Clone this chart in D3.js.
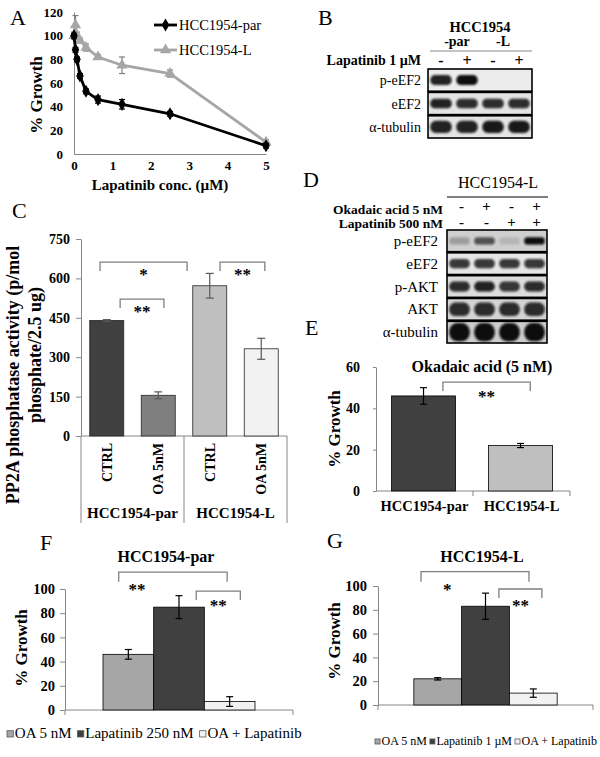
<!DOCTYPE html>
<html><head><meta charset="utf-8">
<script src="https://cdn.jsdelivr.net/npm/d3@7"></script>
<style>body{margin:0;background:#fff} svg{display:block} text{font-family:"Liberation Serif","Times New Roman",serif}</style>
</head><body><svg id="c" width="600" height="757"></svg>
<script>
// ---------- DATA ----------
// Panel A
const doses = [0, 0.039, 0.078, 0.156, 0.3125, 0.625, 1.25, 2.5, 5];
const parGrowth = [100, 88, 80, 66, 53, 46, 42, 34, 7];
const parErr = [2, 2, 2, 2, 2, 3, 4, 2, 2];
const lGrowth = [100, 109, 100, 96, 90, 82, 75, 68, 10];
const lErr = [3, 8, 3, 2, 3, 2, 7, 3, 2];
const growthTicksA = [0, 20, 40, 60, 80, 100, 120];
const doseTicks = [0, 1, 2, 3, 4, 5];
const seriesA = ["HCC1954-par", "HCC1954-L"];
// Panel B (western blot band intensities, lanes: par -, par +, L -, L +)
const blotBRows = ["p-eEF2", "eEF2", "α-tubulin"];
const blotBIntensity = [[0.9, 1, 0, 0], [0.9, 0.85, 0.85, 0.85], [0.9, 0.9, 0.95, 0.95]];
const blotBLapatinib = ["-", "+", "-", "+"];
// Panel C
const pp2aCats = ["CTRL", "OA 5nM", "CTRL", "OA 5nM"];
const pp2aGroups = ["HCC1954-par", "HCC1954-L"];
const pp2aValues = [440, 155, 572, 332];
const pp2aErr = [3, 13, 47, 40];
const pp2aTicks = [0, 150, 300, 450, 600, 750];
// Panel D
const blotDRows = ["p-eEF2", "eEF2", "p-AKT", "AKT", "α-tubulin"];
const blotDIntensity = [[0.25, 0.65, 0.12, 1], [0.8, 0.8, 0.8, 0.8], [0.85, 0.9, 0.8, 0.85], [0.85, 0.85, 0.85, 0.85], [1, 1, 1, 1]];
const blotDOkadaic = ["-", "+", "-", "+"];
const blotDLapatinib = ["-", "-", "+", "+"];
// Panel E
const eCats = ["HCC1954-par", "HCC1954-L"];
const eValues = [46, 22];
const eErr = [4, 1];
const eTicks = [0, 20, 40, 60];
// Panel F
const fSeries = ["OA 5 nM", "Lapatinib 250 nM", "OA + Lapatinib"];
const fValues = [46, 85, 7];
const fErr = [4, 9.5, 4];
// Panel G
const gSeries = ["OA 5 nM", "Lapatinib 1 µM", "OA + Lapatinib"];
const gValues = [22, 83, 10];
const gErr = [1, 11, 3.5];
const fgTicks = [0, 20, 40, 60, 80, 100];

// ---------- STYLE ----------
const SERIF = '"Liberation Serif","Times New Roman",serif';
const AXIS = "#868686";
const BRK = "#7f7f7f";
const pp2aColors = ["#404040", "#7f7f7f", "#bfbfbf", "#f2f2f2"];
const eColors = ["#404040", "#bfbfbf"];
const fgColors = ["#a6a6a6", "#404040", "#f2f2f2"];

const svg = d3.select("#c");
svg.append("rect").attr("width", 600).attr("height", 757).attr("fill", "#fff");
const defs = svg.append("defs");
defs.append("filter").attr("id", "blur").attr("x", "-20%").attr("y", "-50%").attr("width", "140%").attr("height", "200%")
  .append("feGaussianBlur").attr("stdDeviation", 1.3);

function txt(g, x, y, s, o = {}) {
  const t = g.append("text").attr("x", x).attr("y", y).text(s)
    .attr("font-size", o.size || 14).attr("font-weight", o.bold ? "bold" : "normal")
    .attr("text-anchor", o.anchor || "start").attr("fill", o.fill || "#000");
  if (o.rotate) t.attr("transform", `rotate(${o.rotate},${x},${y})`);
  return t;
}
function styleAxis(sel, size) {
  sel.attr("font-family", SERIF).attr("font-size", size).attr("font-weight", "bold");
  sel.select(".domain").attr("stroke", AXIS);
  sel.selectAll(".tick line").attr("stroke", AXIS);
  sel.selectAll(".tick text").attr("fill", "#000");
}
function errBar(g, x, y1, y2, cap, color) {
  g.append("line").attr("x1", x).attr("x2", x).attr("y1", y1).attr("y2", y2).attr("stroke", color).attr("stroke-width", 1.2);
  [y1, y2].forEach(y => g.append("line").attr("x1", x - cap).attr("x2", x + cap).attr("y1", y).attr("y2", y).attr("stroke", color).attr("stroke-width", 1.2));
}
function bracket(g, xL, xR, yTop, yLeg, label, lx, ly) {
  g.append("path").attr("d", `M${xL},${yLeg}V${yTop}H${xR}V${yLeg}`).attr("fill", "none").attr("stroke", BRK).attr("stroke-width", 1.3);
  txt(g, lx, ly, label, { size: 17, bold: true, anchor: "middle" });
}

// ---------- PANEL A ----------
(function () {
  const g = svg.append("g");
  const x = d3.scaleLinear().domain([0, 5]).range([74, 266]);
  const y = d3.scaleLinear().domain([0, 120]).range([154, 12]);
  g.append("g").attr("transform", "translate(74,0)").call(d3.axisLeft(y).tickValues(growthTicksA).tickSize(0).tickPadding(11)).call(styleAxis, 13);
  g.append("g").attr("transform", "translate(0,154)").call(d3.axisBottom(x).tickValues(doseTicks).tickFormat(d3.format("d")).tickSize(0).tickPadding(7)).call(styleAxis, 13);
  txt(g, 10, 25, "A", { size: 22 });
  txt(g, 42, 95, "% Growth", { size: 17, bold: true, anchor: "middle", rotate: -90 });
  txt(g, 160, 190, "Lapatinib conc. (µM)", { size: 15, bold: true, anchor: "middle" });
  const line = d3.line().x((d, i) => x(doses[i])).y(d => y(d));
  const specs = [
    { vals: lGrowth, err: lErr, color: "#a6a6a6", sym: d3.symbolTriangle, size: 55 },
    { vals: parGrowth, err: parErr, color: "#000", sym: d3.symbolDiamond, size: 50 }
  ];
  specs.forEach(s => {
    s.vals.forEach((v, i) => errBar(g, x(doses[i]), y(v + s.err[i]), y(v - s.err[i]), 3, s.color === "#000" ? "#000" : "#7f7f7f"));
    g.append("path").attr("d", line(s.vals)).attr("fill", "none").attr("stroke", s.color).attr("stroke-width", 2.8);
    g.selectAll(null).data(s.vals).enter().append("path")
      .attr("d", d3.symbol(s.sym, s.size))
      .attr("transform", (d, i) => `translate(${x(doses[i])},${y(d)})`).attr("fill", s.color);
  });
  // legend
  [specs[1], specs[0]].forEach((s, i) => {
    const ly = 25 + i * 25;
    g.append("line").attr("x1", 154).attr("x2", 177).attr("y1", ly).attr("y2", ly).attr("stroke", s.color).attr("stroke-width", 2.8);
    g.append("path").attr("d", d3.symbol(s.sym, s.size)).attr("transform", `translate(165.5,${ly})`).attr("fill", s.color);
    txt(g, 179, ly + 5, seriesA[i], { size: 14.5 });
  });
})();

// ---------- BLOT helper ----------
function blot(g, o) {
  const lane = d3.scaleBand().domain(d3.range(4)).range([o.x0, o.x1]);
  const row = d3.scaleBand().domain(o.rows).range([o.y0, o.y1]).paddingInner(0.05);
  o.rows.forEach((r, ri) => {
    const ry = row(r), h = row.bandwidth();
    const cid = "clip" + o.id + ri;
    defs.append("clipPath").attr("id", cid).append("rect").attr("x", o.x0).attr("y", ry).attr("width", o.x1 - o.x0).attr("height", h);
    g.append("rect").attr("x", o.x0).attr("y", ry).attr("width", o.x1 - o.x0).attr("height", h).attr("fill", o.bg[ri]);
    const bg = g.append("g").attr("clip-path", `url(#${cid})`);
    o.intens[ri].forEach((v, li) => {
      if (v <= 0) return;
      const bh = h * o.thick[ri];
      bg.append("rect").attr("x", lane(li) + lane.bandwidth() * 0.09).attr("width", lane.bandwidth() * 0.82)
        .attr("y", ry + h * 0.5 - bh / 2).attr("height", bh).attr("rx", bh / 2.2)
        .attr("fill", "#0a0a0a").attr("opacity", v).attr("filter", "url(#blur)");
    });
    g.append("rect").attr("x", o.x0).attr("y", ry).attr("width", o.x1 - o.x0).attr("height", h).attr("fill", "none").attr("stroke", "#000").attr("stroke-width", 1.6);
    txt(g, o.labelX, ry + h / 2 + 5, r, { size: o.labelSize, anchor: "end" });
  });
  return lane;
}

// ---------- PANEL B ----------
(function () {
  const g = svg.append("g");
  txt(g, 318, 25, "B", { size: 22 });
  const lane = blot(g, { id: "b", x0: 428, x1: 532, y0: 69, y1: 138, rows: blotBRows, intens: blotBIntensity,
    bg: ["#ececec", "#e4e4e4", "#e4e4e4"], thick: [0.45, 0.42, 0.55], labelX: 421, labelSize: 14 });
  txt(g, 480, 32, "HCC1954", { size: 14.5, bold: true, anchor: "middle" });
  txt(g, 457, 46, "-par", { size: 14, bold: true, anchor: "middle" });
  txt(g, 503, 46, "-L", { size: 14, bold: true, anchor: "middle" });
  g.append("line").attr("x1", 430).attr("x2", 532).attr("y1", 51).attr("y2", 51).attr("stroke", "#888").attr("stroke-width", 1.2);
  txt(g, 421, 65, "Lapatinib 1 µM", { size: 14, bold: true, anchor: "end" });
  blotBLapatinib.forEach((s, i) => txt(g, lane(i) + lane.bandwidth() / 2, 66, s, { size: 16, bold: true, anchor: "middle" }));
})();

// ---------- PANEL C ----------
(function () {
  const g = svg.append("g");
  txt(g, 12, 218, "C", { size: 22 });
  const x = d3.scaleBand().domain(d3.range(4)).range([81, 287]);
  const y = d3.scaleLinear().domain([0, 750]).range([436, 239]);
  const bw = x.bandwidth();
  g.append("g").attr("transform", "translate(81,0)").call(d3.axisLeft(y).tickValues(pp2aTicks).tickSizeInner(5).tickSizeOuter(0).tickPadding(6)).call(styleAxis, 14);
  g.append("line").attr("x1", 81).attr("x2", 287).attr("y1", 436).attr("y2", 436).attr("stroke", AXIS);
  [81, x(2), 287].forEach(xx => g.append("line").attr("x1", xx).attr("x2", xx).attr("y1", 436).attr("y2", 523).attr("stroke", AXIS));
  pp2aValues.forEach((v, i) => {
    g.append("rect").attr("x", x(i) + bw * 0.17).attr("width", bw * 0.66).attr("y", y(v)).attr("height", y(0) - y(v))
      .attr("fill", pp2aColors[i]).attr("stroke", "#262626").attr("stroke-width", 0.8);
    errBar(g, x(i) + bw / 2, y(v + pp2aErr[i]), y(v - pp2aErr[i]), 4, "#595959");
    txt(g, x(i) + bw / 2 + 5, 443, pp2aCats[i], { size: 14, bold: true, anchor: "end", rotate: -90 });
  });
  pp2aGroups.forEach((gr, i) => txt(g, x(i * 2) + bw, 518, gr, { size: 15, bold: true, anchor: "middle" }));
  txt(g, 19, 375, "PP2A phosphatase activity (p/mol", { size: 18, bold: true, anchor: "middle", rotate: -90 });
  txt(g, 41, 355, "phosphate/2.5 ug)", { size: 18, bold: true, anchor: "middle", rotate: -90 });
  const ux = u => 81 + u * x.step();
  const br = [
    { from: 0.37, to: 2.06, top: 662, leg: 628, label: "*" },
    { from: 0.76, to: 1.61, top: 521, leg: 487, label: "**" },
    { from: 2.7, to: 3.57, top: 662, leg: 628, label: "**" }
  ];
  br.forEach(b => bracket(g, ux(b.from), ux(b.to), y(b.top), y(b.leg), b.label, (ux(b.from) + ux(b.to)) / 2, y(b.top) + 18));
})();

// ---------- PANEL D ----------
(function () {
  const g = svg.append("g");
  txt(g, 303, 187, "D", { size: 22 });
  const lane = blot(g, { id: "d", x0: 447, x1: 547, y0: 230, y1: 343, rows: blotDRows, intens: blotDIntensity,
    bg: ["#cfcfcf", "#e6e6e6", "#dcdcdc", "#d4d4d4", "#cccccc"], thick: [0.34, 0.42, 0.45, 0.62, 0.85], labelX: 438, labelSize: 15 });
  txt(g, 498, 188, "HCC1954-L", { size: 16, anchor: "middle" });
  g.append("line").attr("x1", 447).attr("x2", 548).attr("y1", 197).attr("y2", 197).attr("stroke", "#000").attr("stroke-width", 1);
  txt(g, 443, 214, "Okadaic acid 5 nM", { size: 13.5, bold: true, anchor: "end" });
  txt(g, 443, 228, "Lapatinib 500 nM", { size: 13.5, bold: true, anchor: "end" });
  blotDOkadaic.forEach((s, i) => txt(g, lane(i) + lane.bandwidth() / 2 + 2, 211, s, { size: 15, bold: true, anchor: "middle" }));
  blotDLapatinib.forEach((s, i) => txt(g, lane(i) + lane.bandwidth() / 2 + 2, 227, s, { size: 15, bold: true, anchor: "middle" }));
})();

// ---------- PANEL E ----------
(function () {
  const g = svg.append("g");
  txt(g, 305, 335, "E", { size: 22 });
  const x = d3.scaleBand().domain(eCats).range([376, 570]);
  const y = d3.scaleLinear().domain([0, 60]).range([491, 367]);
  const bw = x.bandwidth();
  g.append("g").attr("transform", "translate(376,0)").call(d3.axisLeft(y).tickValues(eTicks).tickSizeInner(3).tickSizeOuter(0).tickPadding(13)).call(styleAxis, 14);
  g.append("line").attr("x1", 376).attr("x2", 570).attr("y1", 491).attr("y2", 491).attr("stroke", AXIS);
  [x(eCats[1]), 570].forEach(xx => g.append("line").attr("x1", xx).attr("x2", xx).attr("y1", 491).attr("y2", 496).attr("stroke", AXIS));
  eCats.forEach((c, i) => {
    const v = eValues[i];
    g.append("rect").attr("x", x(c) + bw * 0.16).attr("width", bw * 0.66).attr("y", y(v)).attr("height", y(0) - y(v))
      .attr("fill", eColors[i]).attr("stroke", "#000").attr("stroke-width", 0.8);
    errBar(g, x(c) + bw * 0.49, y(v + eErr[i]), y(v - eErr[i]), 3.5, "#000");
    txt(g, x(c) + bw / 2, 511, c, { size: 14.5, bold: true, anchor: "middle" });
  });
  txt(g, 482, 372, "Okadaic acid (5 nM)", { size: 16, bold: true, anchor: "middle" });
  txt(g, 340, 429, "% Growth", { size: 17, bold: true, anchor: "middle", rotate: -90 });
  const ux = u => 376 + u * x.step();
  const b = { from: 0.69, to: 1.59, top: 52.7, leg: 48.4, label: "**" };
  bracket(g, ux(b.from), ux(b.to), y(b.top), y(b.leg), b.label, (ux(b.from) + ux(b.to)) / 2, y(b.top) + 20);
})();

// ---------- PANELS F, G ----------
function barPanel(o) {
  const g = svg.append("g");
  txt(g, o.letterX, o.letterY, o.letter, { size: 22 });
  const outer = d3.scaleBand().domain(["g"]).range([o.x0, o.x1]).paddingOuter(0.25).paddingInner(0);
  const x = d3.scaleBand().domain(d3.range(o.values.length)).range([outer("g"), outer("g") + outer.bandwidth()]);
  const y = d3.scaleLinear().domain([0, 100]).range([o.yBase, o.yTop]);
  const bw = x.bandwidth();
  g.append("g").attr("transform", `translate(${o.x0},0)`).call(d3.axisLeft(y).tickValues(fgTicks).tickSizeInner(5).tickSizeOuter(0).tickPadding(o.pad)).call(styleAxis, 14.5);
  g.append("line").attr("x1", o.x0).attr("x2", o.x1).attr("y1", o.yBase).attr("y2", o.yBase).attr("stroke", AXIS);
  [o.x0, o.x1].forEach(xx => g.append("line").attr("x1", xx).attr("x2", xx).attr("y1", o.yBase).attr("y2", o.yBase + 5).attr("stroke", AXIS));
  o.values.forEach((v, i) => {
    g.append("rect").attr("x", x(i)).attr("width", bw).attr("y", y(v)).attr("height", y(0) - y(v))
      .attr("fill", fgColors[i]).attr("stroke", "#000").attr("stroke-width", 0.8);
    errBar(g, x(i) + bw / 2, y(v + o.err[i]), y(v - o.err[i]), 3.5, "#000");
  });
  txt(g, o.titleX, 562, o.title, { size: 16, bold: true, anchor: "middle" });
  txt(g, o.ytX, o.ytY, "% Growth", { size: 17, bold: true, anchor: "middle", rotate: -90 });
  const ux = u => x(0) + u * bw;
  o.brackets.forEach(b => bracket(g, ux(b.from), ux(b.to), y(b.top), y(b.leg), b.label,
    b.at != null ? ux(b.at) : (ux(b.from) + ux(b.to)) / 2, y(b.top) + b.dy));
  // legend
  let lx = o.legX;
  o.series.forEach((s, i) => {
    const sq = o.legSize * 0.42;
    g.append("rect").attr("x", lx).attr("y", o.legY - sq - 1).attr("width", sq).attr("height", sq)
      .attr("fill", fgColors[i]).attr("stroke", "#595959").attr("stroke-width", 0.8);
    const t = txt(g, lx + sq + 1.5, o.legY, s, { size: o.legSize });
    lx += sq + 1.5 + t.node().getComputedTextLength() + o.legGap;
  });
}
barPanel({ letter: "F", letterX: 40, letterY: 550, title: "HCC1954-par", titleX: 166, x0: 65, x1: 293, yBase: 710, yTop: 589, pad: 5,
  values: fValues, err: fErr, series: fSeries, ytX: 27, ytY: 648, legX: 7, legY: 738, legSize: 15, legGap: 6,
  brackets: [{ from: 0.31, to: 2.45, top: 114, leg: 106, label: "**", at: 0.67, dy: 23 },
             { from: 1.84, to: 2.71, top: 98.3, leg: 91, label: "**", dy: 20 }] });
barPanel({ letter: "G", letterX: 327, letterY: 548, title: "HCC1954-L", titleX: 482, x0: 378, x1: 593, yBase: 705, yTop: 586, pad: 6,
  values: gValues, err: gErr, series: gSeries, ytX: 340, ytY: 641, legX: 375, legY: 745, legSize: 12, legGap: 3,
  brackets: [{ from: 0.15, to: 2.41, top: 112, leg: 103.5, label: "*", at: 0.7, dy: 23 },
             { from: 1.78, to: 2.68, top: 97.5, leg: 90, label: "**", dy: 22 }] });
</script>
</body></html>
